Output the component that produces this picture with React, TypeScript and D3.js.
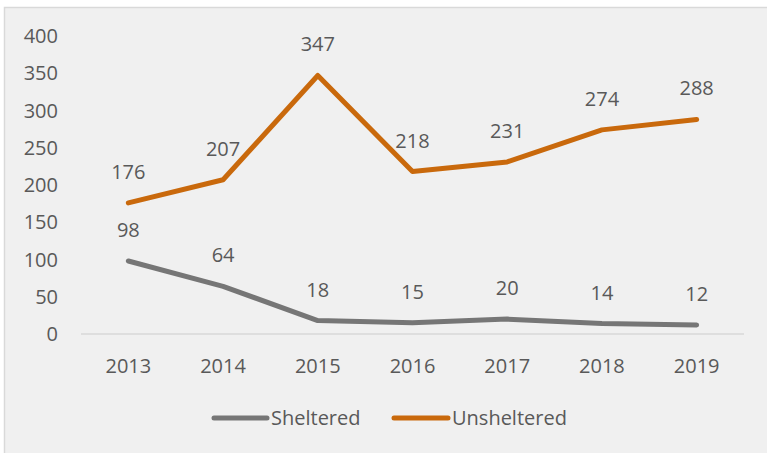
import React from "react";
import * as d3 from "d3";

const years = ["2013", "2014", "2015", "2016", "2017", "2018", "2019"];
const sheltered = [98, 64, 18, 15, 20, 14, 12];
const unsheltered = [176, 207, 347, 218, 231, 274, 288];
const yTicks = [0, 50, 100, 150, 200, 250, 300, 350, 400];

const W = 767, H = 453;
const font = "'Open Sans', 'Noto Sans', sans-serif";
const textColor = "#595959";
const fs = 20;

export default function App() {
  const x = d3.scaleBand<string>().domain(years).range([81, 744]);
  const y = d3.scaleLinear().domain([0, 400]).range([334, 36]);
  const cx = (d: string) => (x(d) as number) + x.bandwidth() / 2;
  const line = d3.line<number>().x((_, i) => cx(years[i])).y((v) => y(v));
  const series = [
    { name: "Sheltered", values: sheltered, color: "#767676" },
    { name: "Unsheltered", values: unsheltered, color: "#c9690c" },
  ];
  return (
    <svg width={W} height={H} style={{ position: "absolute", left: 0, top: 0 }} fontFamily={font}>
      <rect x={0} y={0} width={W} height={H} fill="#ffffff" />
      <rect x={4.5} y={7.5} width={W + 10} height={H + 10} fill="#f0f0f0" stroke="#d9d9d9" strokeWidth={1.5} />
      <line x1={81} x2={744} y1={y(0)} y2={y(0)} stroke="#d9d9d9" strokeWidth={1.5} />
      {yTicks.map((t) => (
        <text key={t} x={58} y={y(t)} dy="0.35em" textAnchor="end" fontSize={fs} fill={textColor}>
          {t}
        </text>
      ))}
      {years.map((yr) => (
        <text key={yr} x={cx(yr)} y={366} dy="0.35em" textAnchor="middle" fontSize={fs} fill={textColor}>
          {yr}
        </text>
      ))}
      {series.map((s) => (
        <g key={s.name}>
          <path d={line(s.values) as string} fill="none" stroke={s.color} strokeWidth={5} strokeLinecap="round" strokeLinejoin="round" />
          {s.values.map((v, i) => (
            <text key={i} x={cx(years[i])} y={y(v) - 31} dy="0.35em" textAnchor="middle" fontSize={fs} fill={textColor}>
              {v}
            </text>
          ))}
        </g>
      ))}
      <g>
        <line x1={214} x2={267} y1={418} y2={418} stroke="#767676" strokeWidth={5} strokeLinecap="round" />
        <text x={271} y={418} dy="0.35em" fontSize={fs} fill={textColor}>Sheltered</text>
        <line x1={394} x2={448} y1={418} y2={418} stroke="#c9690c" strokeWidth={5} strokeLinecap="round" />
        <text x={452} y={418} dy="0.35em" fontSize={fs} fill={textColor}>Unsheltered</text>
      </g>
    </svg>
  );
}
